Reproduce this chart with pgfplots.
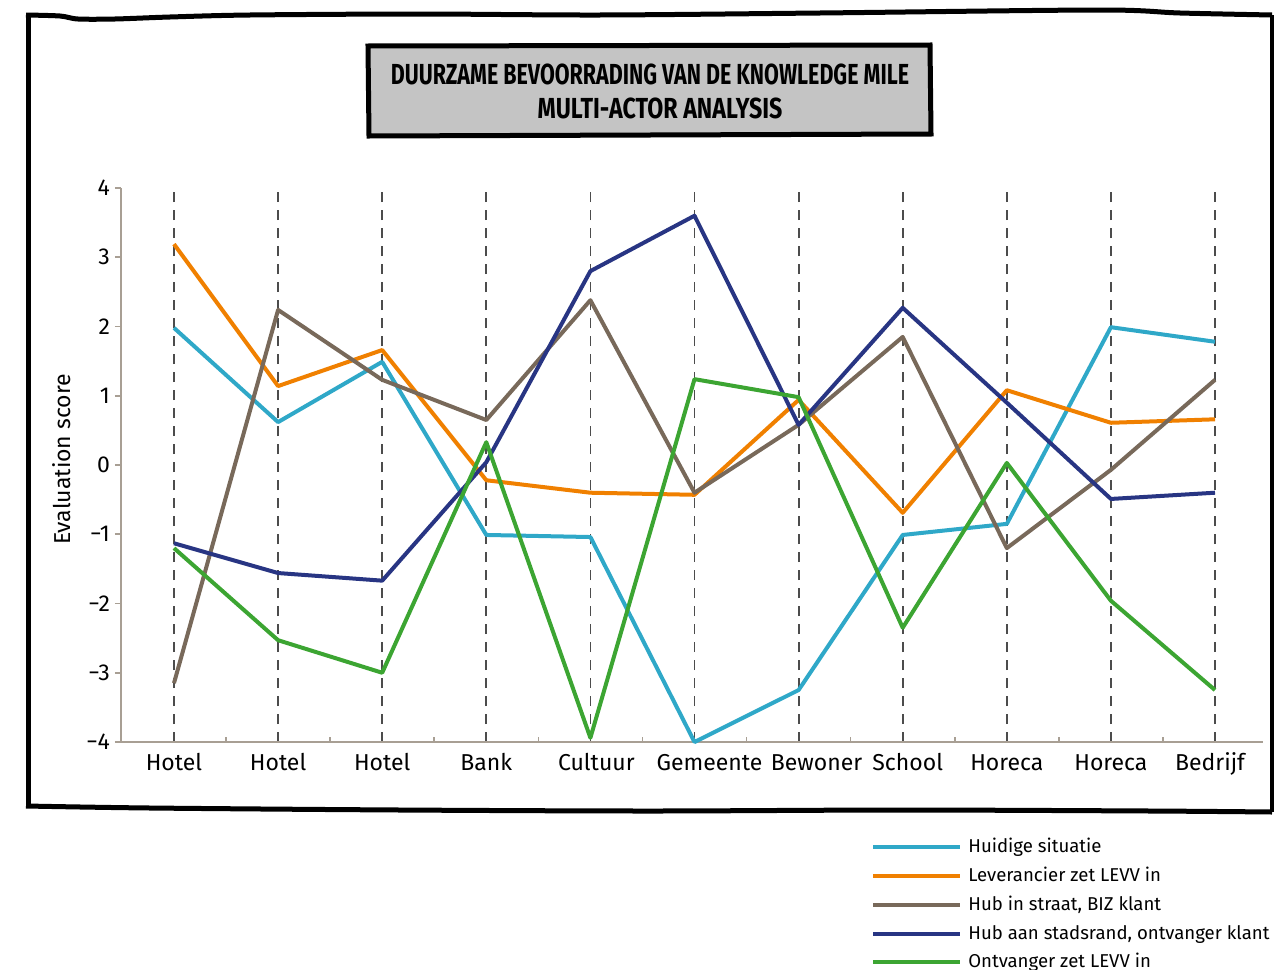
\documentclass[border=0pt]{standalone}
\usepackage{pgfplots}
\pgfplotsset{compat=1.18}
\usepackage{fontspec}
\setmainfont{Fira Sans}
\newfontfamily\titlefont{Fira Sans}
\definecolor{cHuid}{RGB}{47,168,200}
\definecolor{cLev}{RGB}{240,128,0}
\definecolor{cHubS}{RGB}{120,105,90}
\definecolor{cHubR}{RGB}{40,53,131}
\definecolor{cOnt}{RGB}{60,165,50}
\definecolor{axcol}{RGB}{168,159,148}
\definecolor{boxgray}{RGB}{196,196,196}
\begin{document}
\begin{tikzpicture}
\path[use as bounding box] (0pt,0pt) rectangle (637pt,-484.5pt);
\begin{scope}[x=0.5pt,y=-0.5pt]
% hand-drawn style frame
\draw[line width=2.5pt, black, line join=round]
  plot[smooth, tension=0.5] coordinates {(26,15) (60,16) (78,19) (115,19) (170,17) (250,15) (420,14) (600,15) (820,13) (1100,10) (1180,13) (1272,15)};
\draw[line width=2.2pt, black] (1272,15) -- (1272,812);
\draw[line width=2.5pt, black]
  plot[smooth, tension=0.5] coordinates {(26,806) (150,808) (400,810) (650,811) (900,810) (1150,811) (1272,812)};
\draw[line width=2.5pt, black] (28,15) -- (28,806);
% title box
\draw[line width=2.5pt, fill=boxgray] (368,46) -- (930,45) -- (931,134) -- (369,136) -- cycle;
\node[font=\titlefont\bfseries\fontsize{14.5}{15}\selectfont] at (650,74) {\scalebox{0.74}[1]{DUURZAME BEVOORRADING VAN DE KNOWLEDGE MILE}};
\node[font=\titlefont\bfseries\fontsize{14.5}{15}\selectfont] at (660,108) {\scalebox{0.8}[1]{MULTI-ACTOR ANALYSIS}};
\end{scope}
\begin{axis}[
  at={(60.5pt,-371pt)}, anchor=south west,
  scale only axis, width=571pt, height=277pt,
  xmin=-0.509, xmax=10.461, ymin=-4, ymax=4,
  clip=false,
  axis x line*=bottom, axis y line*=left,
  axis line style={-, axcol, line width=0.8pt},
  xtick={0,...,10},
  xticklabels={Hotel,Hotel,Hotel,Bank,\hspace*{6pt}Cultuur,\hspace*{15pt}Gemeente,\hspace*{18pt}Bewoner,\hspace*{5pt}School,Horeca,Horeca,\hspace*{-5pt}Bedrijf},
  minor xtick={0.5,1.5,...,9.5},
  major tick length=0pt,
  minor tick length=2.5pt,
  minor x tick style={axcol, line width=0.8pt},
  ytick={-4,...,4},
  yticklabels={−4,−3,−2,−1,0,1,2,3,4},
  extra y ticks={-4,...,4}, extra y tick labels={},
  extra y tick style={major tick length=3pt, tick align=outside, tick style={axcol, line width=0.8pt}, grid=none},
  xmajorgrids,
  major x grid style={black!70, line width=0.9pt, dash pattern=on 5pt off 4pt},
  ticklabel style={font=\fontsize{11.5}{13}\selectfont, text=black},
  xticklabel style={yshift=-2pt, text height=8.5pt, text depth=2.5pt, anchor=north},
  yticklabel style={xshift=-2pt},
  ylabel={Evaluation score},
  ylabel style={font=\fontsize{11.5}{13}\selectfont, at={(axis description cs:-0.0517,0.51)}, anchor=center},
  legend style={at={(axis description cs:0.6567,-0.166)}, anchor=north west, draw=none, fill=none,
    font=\fontsize{9.3}{10}\selectfont, inner sep=0pt, row sep=1.7pt,
    nodes={inner sep=2pt}},
  legend cell align=left,
  legend image code/.code={\draw[#1, line width=2pt] (0pt,0pt) -- (43.5pt,0pt);},
  /tikz/every odd column/.append style={column sep=1pt},
  every axis plot/.append style={line width=2pt, line join=round},
]
\addplot[cHuid] coordinates {(0,1.98) (1,0.62) (2,1.49) (3,-1.01) (4,-1.04) (5,-4.0) (6,-3.25) (7,-1.01) (8,-0.85) (9,1.99) (10,1.78)};
\addlegendentry{Huidige situatie}
\addplot[cLev] coordinates {(0,3.19) (1,1.14) (2,1.66) (3,-0.22) (4,-0.40) (5,-0.43) (6,0.94) (7,-0.69) (8,1.08) (9,0.61) (10,0.66)};
\addlegendentry{Leverancier zet LEVV in}
\addplot[cHubS] coordinates {(0,-3.15) (1,2.24) (2,1.23) (3,0.65) (4,2.38) (5,-0.40) (6,0.58) (7,1.85) (8,-1.20) (9,-0.07) (10,1.23)};
\addlegendentry{Hub in straat, BIZ klant}
\addplot[cHubR] coordinates {(0,-1.13) (1,-1.56) (2,-1.67) (3,0.04) (4,2.80) (5,3.60) (6,0.58) (7,2.27) (8,0.90) (9,-0.49) (10,-0.40)};
\addlegendentry{Hub aan stadsrand, ontvanger klant}
\addplot[cOnt] coordinates {(0,-1.20) (1,-2.53) (2,-3.00) (3,0.33) (4,-3.94) (5,1.24) (6,0.98) (7,-2.35) (8,0.03) (9,-1.96) (10,-3.25)};
\addlegendentry{Ontvanger zet LEVV in}
\end{axis}
\end{tikzpicture}
\end{document}
